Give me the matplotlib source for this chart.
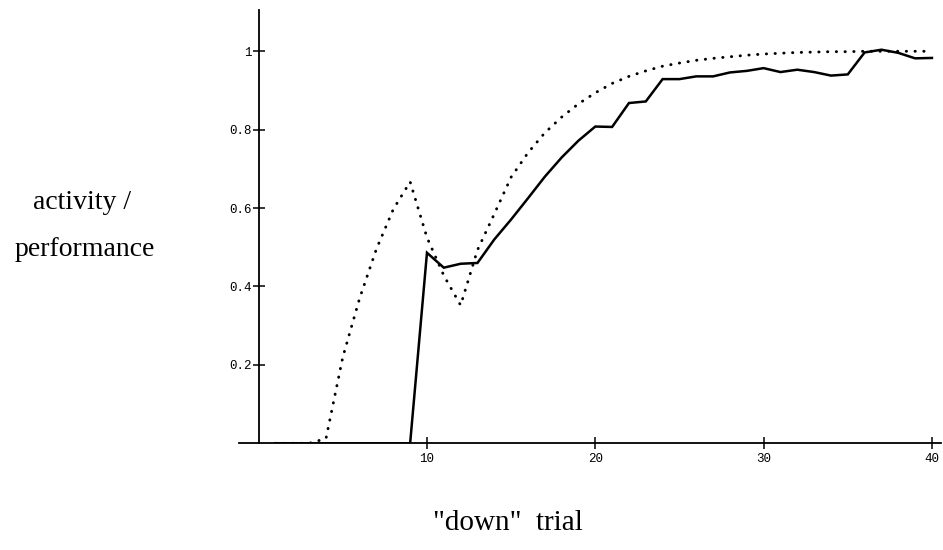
import numpy as np
import matplotlib
matplotlib.use('Agg')
import matplotlib.pyplot as plt

# trial numbers
trials = list(range(1, 41))

# solid line: activity
activity = [0, 0, 0, 0, 0, 0, 0, 0, 0,
            0.486, 0.448, 0.458, 0.460, 0.520, 0.571, 0.625, 0.680, 0.729, 0.772, 0.808,
            0.807, 0.868, 0.872, 0.929, 0.929, 0.936, 0.936, 0.946, 0.950, 0.957,
            0.947, 0.953, 0.947, 0.938, 0.941, 0.997, 1.004, 0.996, 0.982, 0.983]

# dotted line: performance
performance = [0, 0, 0, 0.012, 0.220, 0.370, 0.496, 0.597, 0.667,
               0.525, 0.428, 0.352, 0.493, 0.585, 0.679, 0.741, 0.792, 0.832, 0.866, 0.894,
               0.918, 0.936, 0.950, 0.962, 0.970, 0.977, 0.982, 0.986, 0.990, 0.993,
               0.995, 0.997, 0.998, 0.999, 0.999, 1.0, 1.0, 1.0, 1.0, 1.0]

yticks = [0.2, 0.4, 0.6, 0.8, 1.0]
ytick_labels = ['0.2', '0.4', '0.6', '0.8', '1']
xticks = [10, 20, 30, 40]

fig = plt.figure(figsize=(9.43, 5.5), dpi=100)
ax = fig.add_axes([0.2534, 0.194, 0.7445, 0.7876])

ax.plot(trials, activity, color='black', linewidth=1.8, solid_joinstyle='miter')
ax.plot(trials, performance, color='black', linewidth=2.1,
        linestyle=(0, (0.1, 2.9)), dash_capstyle='round')

ax.set_xlim(-1.17, 40.54)
ax.set_ylim(0, 1.105)

# axes cross at the origin
ax.spines['left'].set_position(('data', 0))
ax.spines['bottom'].set_position(('data', 0))
ax.spines['top'].set_visible(False)
ax.spines['right'].set_visible(False)
for s in ['left', 'bottom']:
    ax.spines[s].set_linewidth(1.3)
    ax.spines[s].set_zorder(5)

ax.set_xticks(xticks)
ax.set_yticks(yticks)
ax.set_yticklabels(ytick_labels)
ax.tick_params(direction='inout', length=8, width=1.1, labelsize=9)
ax.tick_params(axis='x', pad=3)
ax.tick_params(axis='y', pad=1)
for lab in ax.get_xticklabels() + ax.get_yticklabels():
    lab.set_family('Liberation Mono')

# axis titles
fig.text(82 / 943, 1 - 209 / 550, 'activity /', family='Liberation Serif',
         fontsize=20, ha='center', va='baseline')
fig.text(85 / 943, 1 - 256 / 550, 'performance', family='Liberation Serif',
         fontsize=20, ha='center', va='baseline')
fig.text(508 / 943, 1 - 530 / 550, '"down"  trial', family='Liberation Serif',
         fontsize=21, ha='center', va='baseline')

fig.savefig('out.png', dpi=100)
